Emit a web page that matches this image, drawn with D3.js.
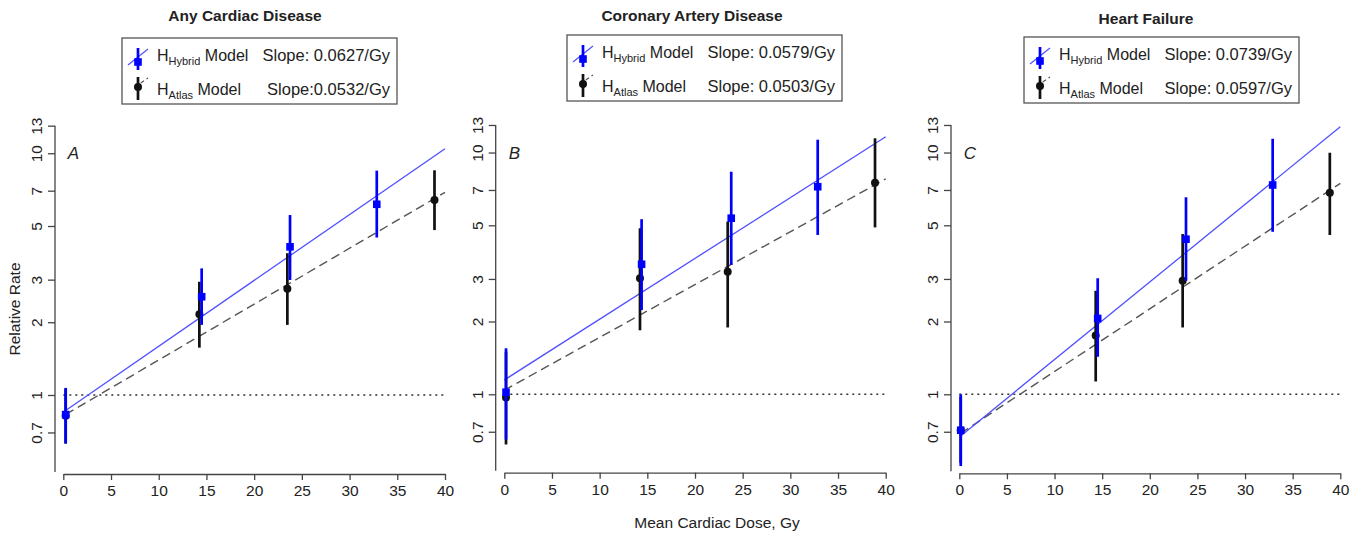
<!DOCTYPE html>
<html>
<head>
<meta charset="utf-8">
<script src="https://cdn.jsdelivr.net/npm/d3@7"></script>
<style>
body { margin: 0; background: #fff; }
text { font-family: "Liberation Sans", Arial, sans-serif; fill: #222; }
</style>
</head>
<body>
<div id="chart"></div>
<script>
var width = 1363;
var height = 533;

// ---- data ----
var panelLetters = ["A", "B", "C"];
var titles = ["Any Cardiac Disease", "Coronary Artery Disease", "Heart Failure"];
var hybridSlopeText = ["Slope: 0.0627/Gy", "Slope: 0.0579/Gy", "Slope: 0.0739/Gy"];
var atlasSlopeText = ["Slope:0.0532/Gy", "Slope: 0.0503/Gy", "Slope: 0.0597/Gy"];

// fitted models: RR = intercept * exp(slope * dose)
var hybridSlope = [0.0627, 0.0579, 0.0739];
var hybridIntercept = [0.85, 1.146, 0.665];
var atlasSlope = [0.0532, 0.0503, 0.0597];
var atlasIntercept = [0.82, 1.04, 0.684];
var fitFrom = [0.25, 0, 0.15];
var fitTo = [40, 40, 40];

// H Hybrid points (dose, relative rate, 95% CI)
var hybridDose = [[0.25, 14.5, 23.76, 32.85], [0.18, 14.4, 23.8, 32.87], [0.15, 14.53, 23.8, 32.9]];
var hybridRR = [[0.83, 2.55, 4.1, 6.15], [1.02, 3.45, 5.35, 7.22], [0.71, 2.06, 4.38, 7.34]];
var hybridLo = [[0.63, 1.95, 2.99, 4.48], [0.65, 2.23, 3.43, 4.56], [0.505, 1.43, 2.95, 4.7]];
var hybridHi = [[1.07, 3.34, 5.55, 8.47], [1.55, 5.3, 8.33, 11.3], [1.0, 3.02, 6.53, 11.4]];

// H Atlas points
var atlasDose = [[0.25, 14.26, 23.48, 38.9], [0.18, 14.23, 23.43, 38.88], [0.15, 14.32, 23.45, 38.9]];
var atlasRR = [[0.82, 2.16, 2.75, 6.4], [0.97, 3.02, 3.21, 7.5], [0.71, 1.75, 2.95, 6.82]];
var atlasLo = [[0.63, 1.57, 1.95, 4.81], [0.62, 1.84, 1.89, 4.9], [0.52, 1.13, 1.89, 4.56]];
var atlasHi = [[1.06, 2.94, 3.86, 8.5], [1.5, 4.86, 5.18, 11.45], [0.98, 2.68, 4.6, 9.98]];

var xTicks = [0, 5, 10, 15, 20, 25, 30, 35, 40];
var yTicks = [0.7, 1, 2, 3, 5, 7, 10, 13];

// panel placement
var layout = [
  {x0: 63.3, x40: 445, y1: 395, axX: 55, axY: 474, titleX: 245, titleY: 21, legX: 122, legY: 38},
  {x0: 504.3, x40: 885.7, y1: 394.3, axX: 495.7, axY: 472.7, titleX: 692, titleY: 21, legX: 567, legY: 35},
  {x0: 959.3, x40: 1340.3, y1: 394.3, axX: 951, axY: 473.3, titleX: 1146, titleY: 24, legX: 1024, legY: 37}
];
var pxPerLn = 105;

var svg = d3.select("#chart")
    .append("svg")
    .attr("width", width)
    .attr("height", height);

var blue = "#0000ff";
var fitBlue = "#5050ff";
var axisCol = "#444";
var barW = 2.7;

panelLetters.forEach(function(letter, i) {
  var L = layout[i];
  var x = d3.scaleLinear().domain([0, 40]).range([L.x0, L.x40]);
  var y = d3.scaleLog().domain([1, 13]).range([L.y1, L.y1 - pxPerLn * Math.log(13)]);
  var g = svg.append("g");

  // title
  g.append("text")
      .attr("x", L.titleX)
      .attr("y", L.titleY)
      .attr("text-anchor", "middle")
      .style("font-size", "15.5px")
      .style("font-weight", "bold")
      .text(titles[i]);

  // x axis
  var xa = g.append("g")
      .attr("transform", "translate(0," + L.axY + ")")
      .call(d3.axisBottom(x).tickValues(xTicks).tickSize(6).tickSizeOuter(0));
  xa.select(".domain").attr("stroke", axisCol).attr("stroke-width", 1.3);
  xa.selectAll(".tick line").attr("stroke", axisCol).attr("stroke-width", 1.3);
  xa.selectAll(".tick text")
      .attr("y", 11)
      .attr("dy", "0.71em")
      .style("font-size", "15.5px")
      .style("font-family", "'Liberation Sans', Arial, sans-serif")
      .attr("fill", "#222");

  // y axis
  var ya = g.append("g")
      .attr("transform", "translate(" + L.axX + ",0)")
      .call(d3.axisLeft(y).tickValues(yTicks).tickFormat(d3.format("")).tickSize(7).tickSizeOuter(0));
  ya.select(".domain")
      .attr("d", "M0," + y(13) + "V" + (L.axY - 2))
      .attr("stroke", axisCol).attr("stroke-width", 1.3);
  ya.selectAll(".tick line").attr("stroke", axisCol).attr("stroke-width", 1.3);
  ya.selectAll(".tick text")
      .attr("x", 0).attr("dy", null)
      .attr("text-anchor", "middle")
      .attr("transform", "translate(-13,0) rotate(-90)")
      .style("font-size", "15.5px")
      .style("font-family", "'Liberation Sans', Arial, sans-serif")
      .attr("fill", "#222");

  // reference line at RR = 1
  g.append("line")
      .attr("x1", x(0)).attr("x2", x(40))
      .attr("y1", y(1)).attr("y2", y(1))
      .attr("stroke", "#333")
      .attr("stroke-width", 1.4)
      .attr("stroke-dasharray", "2,4");

  // fitted lines
  var fitLine = d3.line()
      .x(function(d) { return x(d[0]); })
      .y(function(d) { return y(d[1]); });
  function fitPts(a, b) {
    return [fitFrom[i], fitTo[i]].map(function(d) { return [d, a * Math.exp(b * d)]; });
  }
  g.append("path")
      .attr("d", fitLine(fitPts(atlasIntercept[i], atlasSlope[i])))
      .attr("fill", "none")
      .attr("stroke", "#555")
      .attr("stroke-width", 1.4)
      .attr("stroke-dasharray", "9,5");
  g.append("path")
      .attr("d", fitLine(fitPts(hybridIntercept[i], hybridSlope[i])))
      .attr("fill", "none")
      .attr("stroke", fitBlue)
      .attr("stroke-width", 1.3);

  // atlas points (black) first
  atlasDose[i].forEach(function(d, j) {
    g.append("line")
        .attr("x1", x(d)).attr("x2", x(d))
        .attr("y1", y(atlasLo[i][j])).attr("y2", y(atlasHi[i][j]))
        .attr("stroke", "#111").attr("stroke-width", barW);
    g.append("circle")
        .attr("cx", x(d)).attr("cy", y(atlasRR[i][j]))
        .attr("r", 4).attr("fill", "#111");
  });
  // hybrid points (blue)
  hybridDose[i].forEach(function(d, j) {
    g.append("line")
        .attr("x1", x(d)).attr("x2", x(d))
        .attr("y1", y(hybridLo[i][j])).attr("y2", y(hybridHi[i][j]))
        .attr("stroke", blue).attr("stroke-width", barW);
    g.append("rect")
        .attr("x", x(d) - 3.8).attr("y", y(hybridRR[i][j]) - 3.8)
        .attr("width", 7.6).attr("height", 7.6)
        .attr("fill", blue);
  });

  // panel letter
  g.append("text")
      .attr("x", L.x0 + 4.5)
      .attr("y", y(10) + 6)
      .style("font-size", "17px")
      .style("font-style", "italic")
      .text(letter);

  // legend
  var lg = g.append("g").attr("transform", "translate(" + L.legX + "," + L.legY + ")");
  lg.append("rect")
      .attr("width", 275).attr("height", 66)
      .attr("fill", "#fff").attr("stroke", "#555").attr("stroke-width", 1.3);
  // row 1 symbol
  lg.append("line").attr("x1", 6).attr("y1", 27).attr("x2", 26).attr("y2", 11)
      .attr("stroke", fitBlue).attr("stroke-width", 1.3);
  lg.append("line").attr("x1", 16).attr("y1", 10).attr("x2", 16).attr("y2", 32)
      .attr("stroke", blue).attr("stroke-width", barW);
  lg.append("rect").attr("x", 12.2).attr("y", 20.2).attr("width", 7.6).attr("height", 7.6)
      .attr("fill", blue);
  // row 2 symbol
  lg.append("line").attr("x1", 13).attr("y1", 49).attr("x2", 26).attr("y2", 40)
      .attr("stroke", "#555").attr("stroke-width", 1.2).attr("stroke-dasharray", "4,3");
  lg.append("line").attr("x1", 16).attr("y1", 39).attr("x2", 16).attr("y2", 62)
      .attr("stroke", "#111").attr("stroke-width", barW);
  lg.append("circle").attr("cx", 16).attr("cy", 49).attr("r", 4).attr("fill", "#111");

  var t1 = lg.append("text").attr("x", 35).attr("y", 23).style("font-size", "16px");
  t1.append("tspan").text("H");
  t1.append("tspan").attr("dy", 4).style("font-size", "11px").text("Hybrid");
  t1.append("tspan").attr("dy", -4).text(" Model");
  var t2 = lg.append("text").attr("x", 35).attr("y", 57).style("font-size", "16px");
  t2.append("tspan").text("H");
  t2.append("tspan").attr("dy", 4).style("font-size", "11px").text("Atlas");
  t2.append("tspan").attr("dy", -4).text(" Model");

  lg.append("text").attr("x", 268).attr("y", 23).attr("text-anchor", "end")
      .style("font-size", "16.5px").text(hybridSlopeText[i]);
  lg.append("text").attr("x", 268).attr("y", 57).attr("text-anchor", "end")
      .style("font-size", "16.5px").text(atlasSlopeText[i]);
});

// shared axis labels
svg.append("text")
    .attr("transform", "translate(20,309) rotate(-90)")
    .attr("text-anchor", "middle")
    .style("font-size", "15.5px")
    .text("Relative Rate");

svg.append("text")
    .attr("x", 717)
    .attr("y", 528)
    .attr("text-anchor", "middle")
    .style("font-size", "15.5px")
    .text("Mean Cardiac Dose, Gy");
</script>
</body>
</html>
